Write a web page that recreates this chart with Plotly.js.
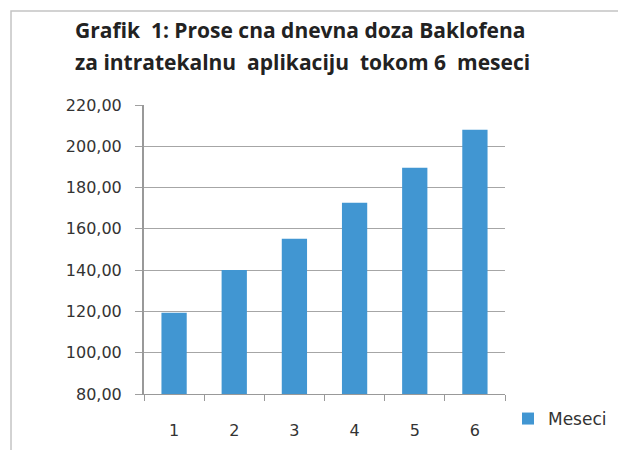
<!DOCTYPE html>
<html><head><meta charset="utf-8">
<script src="https://cdn.plot.ly/plotly-3.0.1.min.js"></script>
<style>html,body{margin:0;padding:0;background:#fff}#chart{width:618px;height:450px}</style>
</head><body><div id="chart"></div>
<script>
const categories = ['1','2','3','4','5','6'];
const values = [119.3, 140.1, 155.2, 172.7, 189.6, 208.0];
const seriesName = 'Meseci';
const yTicks = [80,100,120,140,160,180,200,220];
const titleLines = ['Grafik  1: Prose cna dnevna doza Baklofena', 'za intratekalnu  aplikaciju  tokom 6  meseci'];

const trace = {type:'bar', x:categories, y:values, name:seriesName,
  marker:{color:'#4196d2'}, showlegend:true};

const titleFont = {family:'Open Sans, sans-serif', size:21, color:'#222', weight:'bold'};

const layout = {
  width:618, height:450,
  margin:{l:144, r:113, t:105, b:56},
  paper_bgcolor:'#fff', plot_bgcolor:'#fff',
  separators:',.',
  font:{family:'DejaVu Sans, sans-serif', size:16, color:'#333'},
  bargap:0.58,
  xaxis:{type:'category', tickson:'boundaries', ticks:'outside', ticklen:6, tickcolor:'#999',
    showline:true, linecolor:'#999', linewidth:1, showgrid:false, ticklabelstandoff:22,
    tickfont:{size:16, color:'#333'}},
  yaxis:{range:[80,220], tickvals:yTicks, tickformat:'.2f', ticks:'outside', ticklen:7,
    tickcolor:'#a0a0a0', showline:true, linecolor:'#999', linewidth:2,
    showgrid:true, gridcolor:'#a6a6a6', gridwidth:1, zeroline:false, ticklabelstandoff:10,
    tickfont:{size:16, color:'#333'}},
  legend:{xref:'container', yref:'container', x:0.822, xanchor:'left', y:0.0689, yanchor:'middle',
    font:{size:17, color:'#333'}, itemwidth:30, bgcolor:'rgba(0,0,0,0)'},
  annotations:[
    {text:titleLines[0], xref:'paper', yref:'paper', x:0.4335, y:1.2595, xanchor:'center', yanchor:'middle',
     showarrow:false, font:titleFont},
    {text:titleLines[1], xref:'paper', yref:'paper', x:0.4377, y:1.1488, xanchor:'center', yanchor:'middle',
     showarrow:false, font:titleFont}
  ],
  shapes:[{type:'rect', xref:'paper', yref:'paper', x0:-0.3684, x1:1.4, y0:-0.3, y1:1.325,
    line:{color:'#c4c4c4', width:1.5}, layer:'below'}]
};
Plotly.newPlot('chart', [trace], layout, {displayModeBar:false, staticPlot:true});
</script></body></html>
